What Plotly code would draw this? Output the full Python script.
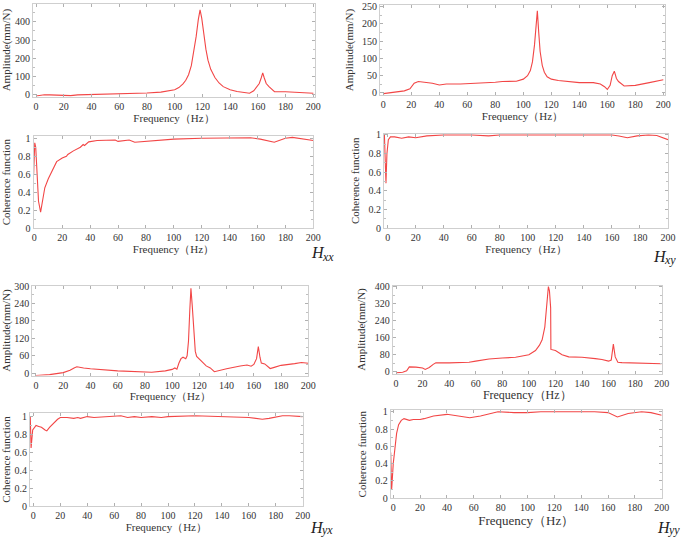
import plotly.graph_objects as go

# ---------------- data ----------------
# Hxx amplitude
f_xx_amp = [0, 3, 6, 10, 15, 20, 25, 30, 40, 50, 60, 70, 80, 90, 95, 100, 103, 106, 108, 110, 112, 114, 115.5, 117,
            118.3, 119.5, 121, 122.5, 124, 126, 129, 132, 135, 140, 145, 150, 154, 157, 159, 161, 162.5, 163.5,
            164.5, 166, 168, 170, 172, 180, 190, 200]
a_xx = [-6, -3, 1, 0, -1, -2, -4, 0, 2, 3, 5, 7, 10, 15, 20, 28, 40, 60, 80, 110, 160, 240, 320, 410,
        465, 420, 330, 250, 190, 140, 95, 65, 45, 28, 18, 12, 9, 22, 40, 62, 95, 120,
        95, 62, 45, 30, 18, 17, 15, 9]
# Hxy amplitude
f_xy_amp = [0, 5, 10, 15, 19, 22, 25, 30, 35, 40, 45, 55, 60, 70, 80, 85, 95, 100, 103, 105, 106.5, 108, 109, 110,
            111, 112, 113.5, 115, 117, 120, 125, 135, 140, 150, 155, 158, 160, 162, 163.5, 165, 166.5, 168, 170,
            172, 180, 185, 190, 200]
a_xy = [-2, 0, 3, 6, 12, 28, 33, 31, 28, 23, 26, 26, 27, 27, 31, 33, 34, 40, 50, 65, 90, 140, 190, 238,
        175, 120, 80, 60, 47, 40, 36, 33, 30, 30, 26, 18, 10, 22, 50, 63, 42, 33, 27,
        20, 22, 25, 30, 38]
# Hxx coherence
f_xx_coh = [-0.5, 0.3, 1, 2, 3, 4.5, 6, 7.5, 10, 13.5, 16, 20, 23, 24, 28, 33, 35, 36, 39, 45, 50, 58, 60, 65, 68,
            72, 80, 90, 100, 120, 140, 155, 162, 172, 180, 185, 200]
c_xx = [0.6, 0.95, 0.9, 0.55, 0.3, 0.18, 0.32, 0.45, 0.55, 0.66, 0.74, 0.78, 0.8, 0.82, 0.86, 0.9, 0.93, 0.92, 0.96,
        0.975, 0.98, 0.98, 0.965, 0.975, 0.98, 0.955, 0.965, 0.985, 0.99, 1.0, 1.005, 1.005, 0.99, 0.955, 1.0,
        1.01, 0.975]
# Hxy coherence
f_xy_coh = [-2.3, -1.8, -1.2, -0.5, 0.5, 2, 5, 10, 15, 20, 28, 40, 60, 72, 80, 100, 120, 160, 165, 171, 178, 186,
            192, 200]
c_xy = [1.0, 0.7, 0.48, 0.8, 0.95, 0.98, 0.98, 0.965, 0.98, 0.97, 0.99, 1.0, 1.0, 0.99, 1.0, 1.0, 1.0, 1.0, 0.99,
        0.97, 0.99, 1.0, 0.995, 0.95]
# Hyx amplitude
f_yx_amp = [0, 10, 20, 25, 28, 30, 35, 40, 60, 80, 85, 95, 100, 102, 103.5, 105, 106.5, 108, 110, 111, 112, 113, 113.8,
            114.8, 116, 117, 118, 120, 123, 125, 128, 131, 135, 140, 150, 155, 158, 160, 162, 163.3, 164.5, 165.5,
            168, 170, 172, 175, 180, 190, 195, 200]
a_yx = [-8, -5, 2, 10, 18, 22, 18, 15, 8, 3, 3, 8, 13, 18, 14, 35, 50, 55, 50, 60, 110, 220, 292,
        230, 140, 75, 58, 50, 35, 25, 18, 5, 10, 15, 25, 28, 24, 30, 50, 92, 55, 35,
        32, 25, 16, 20, 27, 33, 37, 34]
# Hyy amplitude
f_yy_amp = [0, 5, 8, 10, 15, 20, 22, 25, 28, 30, 40, 55, 60, 70, 80, 90, 100, 105, 108, 110, 112, 113.5, 114.7,
            115.5, 116.4, 116.6, 120, 125, 130, 140, 145, 150, 155, 160, 162, 163.6, 165, 167, 170, 180, 200]
a_yy = [-5, -2, 5, 23, 22, 18, 11, 20, 35, 42, 42, 45, 50, 60, 65, 68, 80, 100, 125, 150, 210, 320, 400,
        380, 300, 105, 100, 80, 70, 68, 66, 62, 58, 50, 55, 130, 70, 45, 43, 42, 38]
# Hyx coherence
f_yx_coh = [-2.3, -1.7, -0.5, 0.5, 2, 4, 6, 8.7, 10, 12, 15, 18, 20, 25, 30, 33, 35, 40, 45, 55, 65, 70, 75, 80, 88,
            95, 100, 120, 150, 160, 170, 175, 185, 190, 200]
c_yx = [1.0, 0.65, 0.85, 0.87, 0.9, 0.89, 0.88, 0.85, 0.84, 0.88, 0.93, 0.97, 0.99, 0.99, 0.98, 0.99, 0.98, 1.0,
        0.99, 1.0, 1.01, 0.99, 1.0, 0.99, 1.0, 0.99, 1.0, 1.01, 1.0, 0.99, 0.97, 0.98, 1.01, 1.01, 1.0]
# Hyy coherence
f_yy_coh = [-1.9, -1.2, 0, 1.2, 2.5, 4, 6, 8, 12, 15, 20, 23, 30, 40, 50, 57, 65, 70, 78, 90, 100, 110, 150, 160,
            167, 175, 185, 192, 200]
c_yy = [0.53, 0.1, 0.4, 0.6, 0.75, 0.85, 0.9, 0.92, 0.9, 0.91, 0.91, 0.92, 0.95, 0.97, 0.95, 0.93, 0.95, 0.97,
        1.0, 0.99, 0.99, 1.0, 1.0, 0.99, 0.94, 0.98, 1.0, 0.99, 0.96]

freq_ticks = list(range(0, 201, 20))
amp_title = "Amplitude(mm/N)"
coh_title = "Coherence function"
freq_title = "Frequency（Hz）"
panel_labels = ["xx", "xy", "yx", "yy"]

# ---------------- layout helpers ----------------
W, H = 685, 541
LINE = "rgb(242,70,70)"
FRAME = "#cfcfcf"
FONT = "Times New Roman, Liberation Serif, serif"

panels = [
    # x data, y data, px box (l, r, t, b), xrange, yrange, dtick, minor, ytitle, title size
    (f_xx_amp, a_xx, (33, 315, 3.5, 96.7), [-2.2, 201.2], [-10, 500], 100, 50, amp_title, 11),
    (f_xy_amp, a_xy, (380, 665, 5, 95), [-2.4, 201.2], [-6, 255], 50, 25, amp_title, 11),
    (f_xx_coh, c_xx, (33.5, 313.3, 136, 228.3), [-0.6, 200], [0, 1.025], 0.2, 0.1, coh_title, 11),
    (f_xy_coh, c_xy, (384, 668, 133.5, 228), [-2.6, 200], [0, 1.016], 0.2, 0.1, coh_title, 11),
    (f_yx_amp, a_yx, (32.3, 308.3, 285.5, 375.5), [-2.7, 200], [-8, 302], 60, 30, amp_title, 11),
    (f_yy_amp, a_yy, (392.7, 661.7, 285.5, 373.5), [-2.5, 200], [-8, 405], 80, 40, amp_title, 12),
    (f_yx_coh, c_yx, (30, 302.7, 413, 506), [-2.5, 200], [0, 1.04], 0.2, 0.1, coh_title, 11),
    (f_yy_coh, c_yy, (390.7, 661.7, 410, 498.3), [-1.9, 200], [0, 1.02], 0.2, 0.1, coh_title, 13),
]

fig = go.Figure()
layout = dict(
    width=W, height=H, margin=dict(l=0, r=0, t=0, b=0, pad=0),
    paper_bgcolor="white", plot_bgcolor="white", showlegend=False,
    font=dict(family=FONT, color="#333333", size=10),
)

for i, (xs, ys, (l, r, t, b), xr, yr, dt, mn, ytitle, tsize) in enumerate(panels):
    n = "" if i == 0 else str(i + 1)
    fig.add_trace(go.Scatter(x=xs, y=ys, mode="lines", line=dict(color=LINE, width=1.1),
                             xaxis="x" + n, yaxis="y" + n, hoverinfo="skip"))
    layout["xaxis" + n] = dict(
        domain=[l / W, r / W], anchor="y" + n, range=xr, tickvals=freq_ticks, automargin=False,
        showline=True, mirror="ticks", linecolor=FRAME, linewidth=1,
        ticks="inside", ticklen=3, tickcolor="#b0b0b0", showgrid=False, zeroline=False,
        tickfont=dict(size=10, family=FONT, color="#333333"),
        title=dict(text=freq_title, font=dict(size=tsize, family=FONT, color="#333333"), standoff=2),
    )
    layout["yaxis" + n] = dict(
        domain=[1 - b / H, 1 - t / H], anchor="x" + n, range=yr, dtick=dt, tick0=0, automargin=False,
        showline=True, mirror="ticks", linecolor=FRAME, linewidth=1,
        ticks="inside", ticklen=3, tickcolor="#b0b0b0", showgrid=False, zeroline=False,
        minor=dict(dtick=mn, ticks="inside", ticklen=2, tickcolor="#c0c0c0", showgrid=False),
        tickfont=dict(size=10, family=FONT, color="#333333"),
        title=dict(text=ytitle, font=dict(size=11, family=FONT, color="#333333"), standoff=6),
    )

fig.update_layout(**layout)

# panel labels: italic H with an italic lowered subscript, drawn as two plain texts
# (H centre x, H centre y, subscript left x, subscript centre y, H size)
label_pos = [(318, 253, 321, 257, 16), (660, 256, 663, 260, 16),
             (317, 527, 320, 530, 16), (664, 527, 667, 530, 16)]
for (hx, hy, sx, sy, hs), sub in zip(label_pos, panel_labels):
    fig.add_annotation(x=hx / W, y=1 - hy / H, xref="paper", yref="paper", text="H",
                       showarrow=False, xanchor="center", yanchor="middle", borderpad=0,
                       font=dict(size=hs, family=FONT, color="#222222", style="italic"))
    fig.add_annotation(x=sx / W, y=1 - sy / H, xref="paper", yref="paper", text=sub,
                       showarrow=False, xanchor="left", yanchor="middle", borderpad=0,
                       font=dict(size=round(hs * 0.72), family=FONT, color="#222222", style="italic"))

fig.write_html("out.html", config={"displayModeBar": False},
               post_script="document.body.style.margin='0px';document.body.style.overflow='hidden';")
